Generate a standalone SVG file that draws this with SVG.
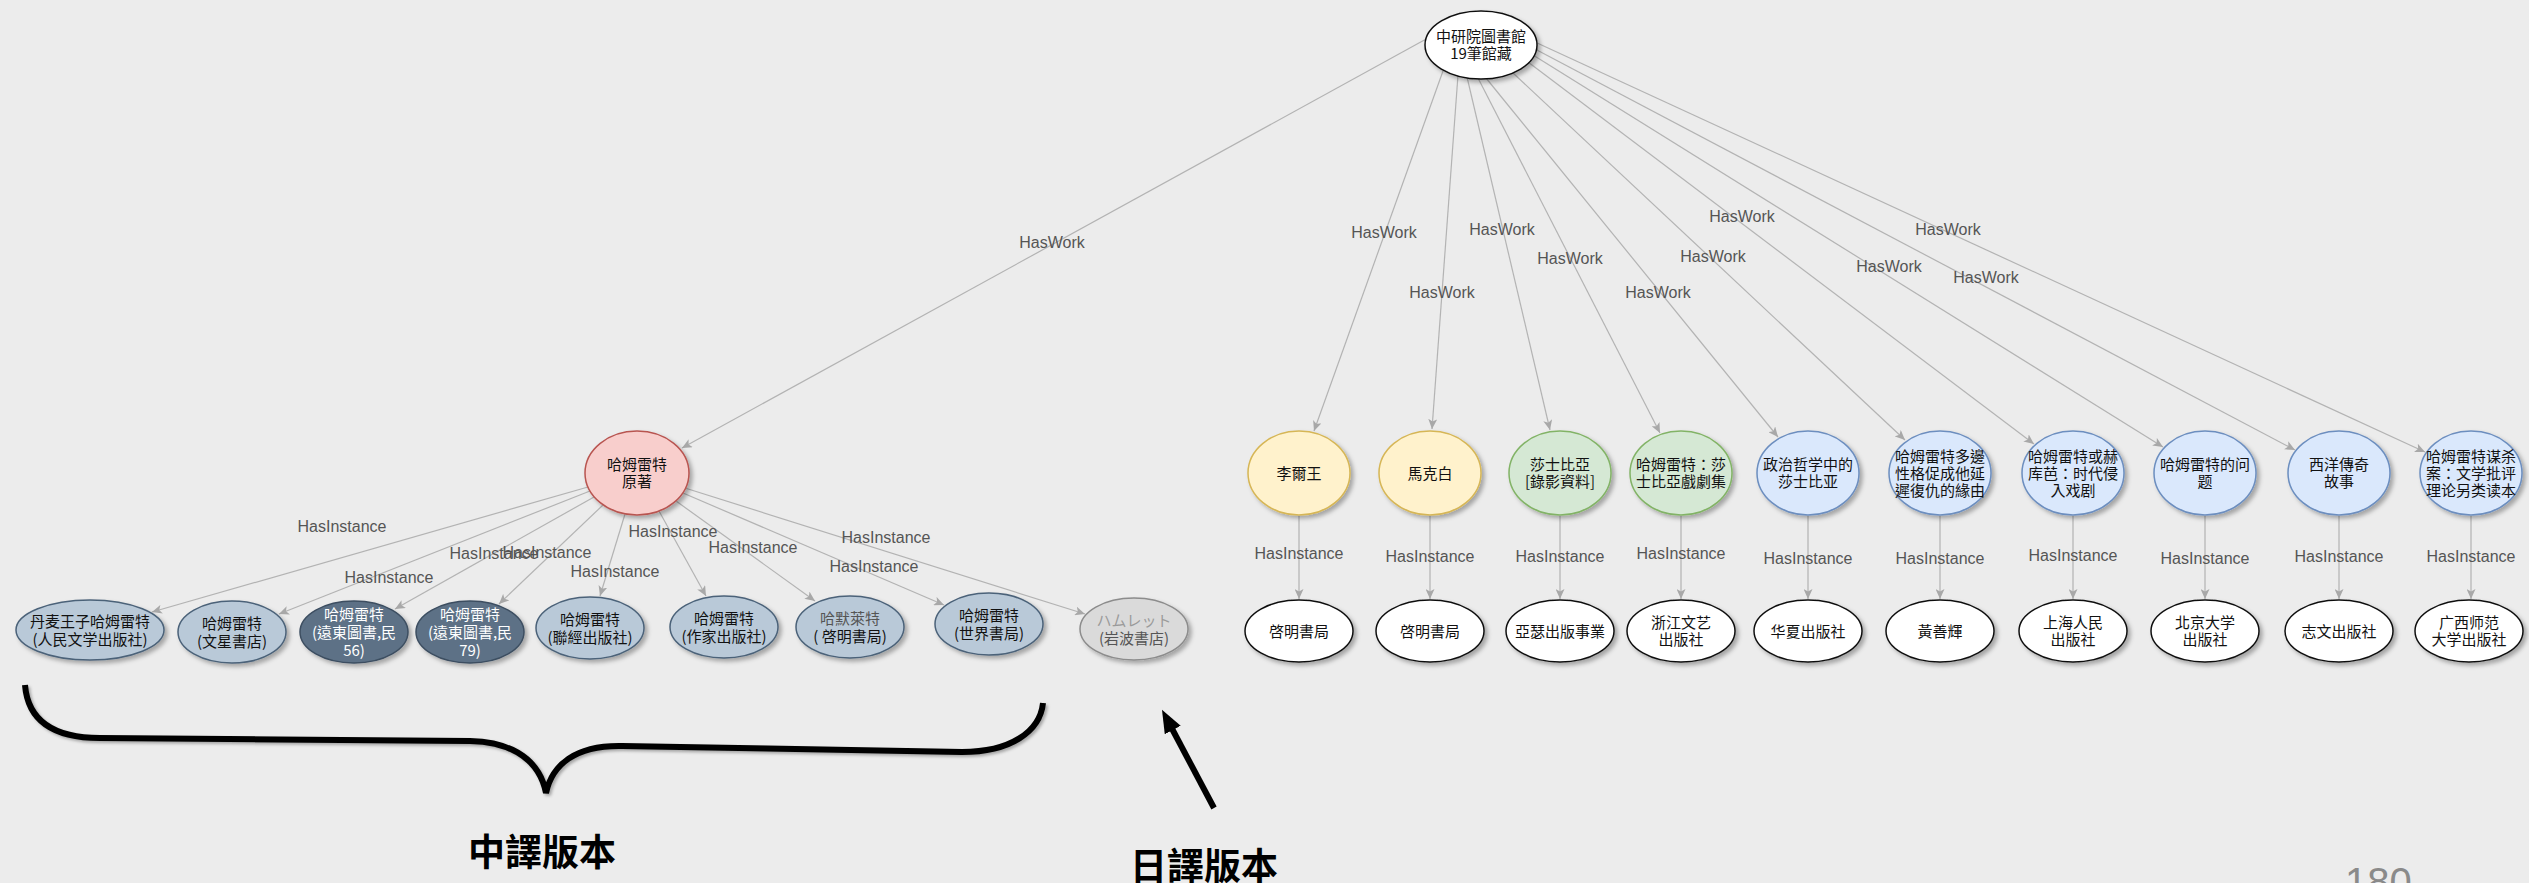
<svg xmlns="http://www.w3.org/2000/svg" width="2529" height="883" viewBox="0 0 2529 883">
<defs>
<style>
.e{stroke:#b3b3b3;stroke-width:1.2;fill:none;marker-end:url(#ar)}
.l{font-family:"Liberation Sans",Arial,sans-serif;font-size:16px;fill:#555;text-anchor:middle}
.n{font-family:"Noto Sans CJK TC","Noto Sans CJK SC",sans-serif;font-size:15px;fill:#111;text-anchor:middle}
.w{fill:#fff;stroke:#111;stroke-width:1.5}
.lb{fill:#b9c9d8;stroke:#4b6279;stroke-width:1.5}
.db{fill:#5d7186;stroke:#3c4e61;stroke-width:1.5}
.gr{fill:#dadada;stroke:#8c8c8c;stroke-width:1.5}
.rd{fill:#f8cecc;stroke:#b85450;stroke-width:1.5}
.yl{fill:#fff2cc;stroke:#d6b656;stroke-width:1.5}
.gn{fill:#d5e8d4;stroke:#82b366;stroke-width:1.5}
.bl{fill:#dae8fc;stroke:#6c8ebf;stroke-width:1.5}
.big{font-family:"Noto Sans CJK TC","Noto Sans CJK SC",sans-serif;font-size:37px;font-weight:700;fill:#000;text-anchor:middle}
</style>
<marker id="ar" markerUnits="userSpaceOnUse" markerWidth="11" markerHeight="9" refX="10" refY="4.5" orient="auto"><path d="M0,0 L10,4.5 L0,9 L2.5,4.5 z" fill="#a8a8a8"/></marker>
<marker id="bk" markerUnits="userSpaceOnUse" markerWidth="24" markerHeight="18" refX="8" refY="9" orient="auto"><path d="M0,0 L23,9 L0,18 z" fill="#000"/></marker>
<filter id="sh" x="-20%" y="-20%" width="150%" height="150%"><feDropShadow dx="3" dy="3" stdDeviation="2" flood-color="#000" flood-opacity="0.3"/></filter>
<filter id="sh2" x="-5%" y="-20%" width="110%" height="150%"><feDropShadow dx="2" dy="2" stdDeviation="1.5" flood-color="#000" flood-opacity="0.3"/></filter>
</defs>
<rect width="2529" height="883" fill="#ececec"/>

<g id="connectors">
<line class="e" x1="1428" y1="38" x2="682" y2="448"/>
<line class="e" x1="1443" y1="71" x2="1314" y2="431"/>
<line class="e" x1="1458" y1="75" x2="1432" y2="429"/>
<line class="e" x1="1467" y1="77" x2="1550" y2="430"/>
<line class="e" x1="1478" y1="78" x2="1660" y2="433"/>
<line class="e" x1="1486" y1="78" x2="1778" y2="437"/>
<line class="e" x1="1512" y1="72" x2="1905" y2="440"/>
<line class="e" x1="1528" y1="62" x2="2034" y2="444"/>
<line class="e" x1="1533" y1="55" x2="2163" y2="447"/>
<line class="e" x1="1535" y1="49" x2="2295" y2="450"/>
<line class="e" x1="1535" y1="42" x2="2425" y2="452"/>
<text class="l" x="1052" y="248">HasWork</text>
<text class="l" x="1384" y="238">HasWork</text>
<text class="l" x="1442" y="298">HasWork</text>
<text class="l" x="1502" y="235">HasWork</text>
<text class="l" x="1570" y="264">HasWork</text>
<text class="l" x="1658" y="298">HasWork</text>
<text class="l" x="1713" y="262">HasWork</text>
<text class="l" x="1742" y="222">HasWork</text>
<text class="l" x="1889" y="272">HasWork</text>
<text class="l" x="1986" y="283">HasWork</text>
<text class="l" x="1948" y="235">HasWork</text>

<line class="e" x1="588" y1="487" x2="152" y2="612"/>
<line class="e" x1="590" y1="491" x2="279" y2="614"/>
<line class="e" x1="594" y1="497" x2="395" y2="609"/>
<line class="e" x1="603" y1="505" x2="499" y2="604"/>
<line class="e" x1="625" y1="514" x2="600" y2="596"/>
<line class="e" x1="659" y1="511" x2="706" y2="596"/>
<line class="e" x1="676" y1="501" x2="815" y2="601"/>
<line class="e" x1="683" y1="493" x2="944" y2="605"/>
<line class="e" x1="685" y1="488" x2="1085" y2="614"/>
<text class="l" x="342" y="532">HasInstance</text>
<text class="l" x="389" y="583">HasInstance</text>
<text class="l" x="494" y="559">HasInstance</text>
<text class="l" x="547" y="558">HasInstance</text>
<text class="l" x="615" y="577">HasInstance</text>
<text class="l" x="673" y="537">HasInstance</text>
<text class="l" x="753" y="553">HasInstance</text>
<text class="l" x="886" y="543">HasInstance</text>
<text class="l" x="874" y="572">HasInstance</text>

<line class="e" x1="1299" y1="516" x2="1299" y2="599"/>
<line class="e" x1="1430" y1="516" x2="1430" y2="599"/>
<line class="e" x1="1560" y1="516" x2="1560" y2="599"/>
<line class="e" x1="1681" y1="516" x2="1681" y2="599"/>
<line class="e" x1="1808" y1="516" x2="1808" y2="599"/>
<line class="e" x1="1940" y1="516" x2="1940" y2="599"/>
<line class="e" x1="2073" y1="516" x2="2073" y2="599"/>
<line class="e" x1="2205" y1="516" x2="2205" y2="599"/>
<line class="e" x1="2339" y1="516" x2="2339" y2="599"/>
<line class="e" x1="2471" y1="516" x2="2471" y2="599"/>
<text class="l" x="1299" y="559">HasInstance</text>
<text class="l" x="1430" y="562">HasInstance</text>
<text class="l" x="1560" y="562">HasInstance</text>
<text class="l" x="1681" y="559">HasInstance</text>
<text class="l" x="1808" y="564">HasInstance</text>
<text class="l" x="1940" y="564">HasInstance</text>
<text class="l" x="2073" y="561">HasInstance</text>
<text class="l" x="2205" y="564">HasInstance</text>
<text class="l" x="2339" y="562">HasInstance</text>
<text class="l" x="2471" y="562">HasInstance</text>
</g>

<g id="n-top"><ellipse class="w" cx="1481" cy="45" rx="56" ry="34" filter="url(#sh)"/><text class="n" x="1481" y="42">中研院圖書館</text><text class="n" x="1481" y="59">19筆館藏</text></g>
<g id="n-hamlet"><ellipse class="rd" cx="637" cy="473" rx="52" ry="42" filter="url(#sh)"/><text class="n" x="637" y="470">哈姆雷特</text><text class="n" x="637" y="487">原著</text></g>

<g id="b1"><ellipse class="lb" cx="90" cy="630" rx="74" ry="30" filter="url(#sh)"/><text class="n" x="90" y="627">丹麦王子哈姆雷特</text><text class="n" x="90" y="645">(人民文学出版社)</text></g>
<g id="b2"><ellipse class="lb" cx="232" cy="632" rx="54" ry="31" filter="url(#sh)"/><text class="n" x="232" y="629">哈姆雷特</text><text class="n" x="232" y="647">(文星書店)</text></g>
<g id="b3"><ellipse class="db" cx="354" cy="632" rx="54" ry="31" filter="url(#sh)"/><text class="n" x="354" y="619.5" style="fill:#fff">哈姆雷特</text><text class="n" x="354" y="637.5" style="fill:#fff">(遠東圖書,民</text><text class="n" x="354" y="655.5" style="fill:#fff">56)</text></g>
<g id="b4"><ellipse class="db" cx="470" cy="632" rx="54" ry="31" filter="url(#sh)"/><text class="n" x="470" y="619.5" style="fill:#fff">哈姆雷特</text><text class="n" x="470" y="637.5" style="fill:#fff">(遠東圖書,民</text><text class="n" x="470" y="655.5" style="fill:#fff">79)</text></g>
<g id="b5"><ellipse class="lb" cx="590" cy="628" rx="54" ry="31" filter="url(#sh)"/><text class="n" x="590" y="625">哈姆雷特</text><text class="n" x="590" y="643">(聯經出版社)</text></g>
<g id="b6"><ellipse class="lb" cx="724" cy="627" rx="54" ry="31" filter="url(#sh)"/><text class="n" x="724" y="624">哈姆雷特</text><text class="n" x="724" y="642">(作家出版社)</text></g>
<g id="b7"><ellipse class="lb" cx="850" cy="627" rx="54" ry="31" filter="url(#sh)"/><text class="n" x="850" y="624" style="fill:#555">哈默萊特</text><text class="n" x="850" y="642">( 啓明書局)</text></g>
<g id="b8"><ellipse class="lb" cx="989" cy="624" rx="54" ry="31" filter="url(#sh)"/><text class="n" x="989" y="621">哈姆雷特</text><text class="n" x="989" y="639">(世界書局)</text></g>
<g id="b9"><ellipse class="gr" cx="1134" cy="629" rx="54" ry="31" filter="url(#sh)"/><text class="n" x="1134" y="626" style="fill:#9a9a9a">ハムレット</text><text class="n" x="1134" y="644" style="fill:#555">(岩波書店)</text></g>

<g id="w1"><ellipse class="yl" cx="1299" cy="473" rx="51" ry="42" filter="url(#sh)"/><text class="n" x="1299" y="478.5">李爾王</text></g>
<g id="w2"><ellipse class="yl" cx="1430" cy="473" rx="51" ry="42" filter="url(#sh)"/><text class="n" x="1430" y="478.5">馬克白</text></g>
<g id="w3"><ellipse class="gn" cx="1560" cy="473" rx="51" ry="42" filter="url(#sh)"/><text class="n" x="1560" y="470">莎士比亞</text><text class="n" x="1560" y="487">[錄影資料]</text></g>
<g id="w4"><ellipse class="gn" cx="1681" cy="473" rx="51" ry="42" filter="url(#sh)"/><text class="n" x="1681" y="470">哈姆雷特：莎</text><text class="n" x="1681" y="487">士比亞戲劇集</text></g>
<g id="w5"><ellipse class="bl" cx="1808" cy="473" rx="51" ry="42" filter="url(#sh)"/><text class="n" x="1808" y="470">政治哲学中的</text><text class="n" x="1808" y="487">莎士比亚</text></g>
<g id="w6"><ellipse class="bl" cx="1940" cy="473" rx="51" ry="42" filter="url(#sh)"/><text class="n" x="1940" y="461.5">哈姆雷特多邊</text><text class="n" x="1940" y="478.5">性格促成他延</text><text class="n" x="1940" y="495.5">遲復仇的緣由</text></g>
<g id="w7"><ellipse class="bl" cx="2073" cy="473" rx="51" ry="42" filter="url(#sh)"/><text class="n" x="2073" y="461.5">哈姆雷特或赫</text><text class="n" x="2073" y="478.5">库芭：时代侵</text><text class="n" x="2073" y="495.5">入戏剧</text></g>
<g id="w8"><ellipse class="bl" cx="2205" cy="473" rx="51" ry="42" filter="url(#sh)"/><text class="n" x="2205" y="470">哈姆雷特的问</text><text class="n" x="2205" y="487">题</text></g>
<g id="w9"><ellipse class="bl" cx="2339" cy="473" rx="51" ry="42" filter="url(#sh)"/><text class="n" x="2339" y="470">西洋傳奇</text><text class="n" x="2339" y="487">故事</text></g>
<g id="w10"><ellipse class="bl" cx="2471" cy="473" rx="51" ry="42" filter="url(#sh)"/><text class="n" x="2471" y="461.5">哈姆雷特谋杀</text><text class="n" x="2471" y="478.5">案：文学批评</text><text class="n" x="2471" y="495.5">理论另类读本</text></g>

<g id="p1"><ellipse class="w" cx="1299" cy="631" rx="54" ry="31" filter="url(#sh)"/><text class="n" x="1299" y="636.5">啓明書局</text></g>
<g id="p2"><ellipse class="w" cx="1430" cy="631" rx="54" ry="31" filter="url(#sh)"/><text class="n" x="1430" y="636.5">啓明書局</text></g>
<g id="p3"><ellipse class="w" cx="1560" cy="631" rx="54" ry="31" filter="url(#sh)"/><text class="n" x="1560" y="636.5">亞瑟出版事業</text></g>
<g id="p4"><ellipse class="w" cx="1681" cy="631" rx="54" ry="31" filter="url(#sh)"/><text class="n" x="1681" y="628">浙江文艺</text><text class="n" x="1681" y="645">出版社</text></g>
<g id="p5"><ellipse class="w" cx="1808" cy="631" rx="54" ry="31" filter="url(#sh)"/><text class="n" x="1808" y="636.5">华夏出版社</text></g>
<g id="p6"><ellipse class="w" cx="1940" cy="631" rx="54" ry="31" filter="url(#sh)"/><text class="n" x="1940" y="636.5">黃善輝</text></g>
<g id="p7"><ellipse class="w" cx="2073" cy="631" rx="54" ry="31" filter="url(#sh)"/><text class="n" x="2073" y="628">上海人民</text><text class="n" x="2073" y="645">出版社</text></g>
<g id="p8"><ellipse class="w" cx="2205" cy="631" rx="54" ry="31" filter="url(#sh)"/><text class="n" x="2205" y="628">北京大学</text><text class="n" x="2205" y="645">出版社</text></g>
<g id="p9"><ellipse class="w" cx="2339" cy="631" rx="54" ry="31" filter="url(#sh)"/><text class="n" x="2339" y="636.5">志文出版社</text></g>
<g id="p10"><ellipse class="w" cx="2469" cy="631" rx="54" ry="31" filter="url(#sh)"/><text class="n" x="2469" y="628">广西师范</text><text class="n" x="2469" y="645">大学出版社</text></g>

<g id="annotations">
<path d="M25,685 C28,722 55,738 100,738 L470,741 C515,742 540,762 546,793 C552,765 575,745 622,746 L962,752 C1010,752 1040,732 1043,703" fill="none" stroke="#000" stroke-width="6" filter="url(#sh2)"/>
<line x1="1214" y1="808" x2="1169" y2="723" stroke="#000" stroke-width="6" marker-end="url(#bk)"/>
<text class="big" x="542" y="866">中譯版本</text>
<text class="big" x="1204" y="880">日譯版本</text>
<text x="2345" y="896" font-family="Liberation Sans, Arial, sans-serif" font-size="40" fill="#8a8a8a">180</text>
</g>
</svg>
